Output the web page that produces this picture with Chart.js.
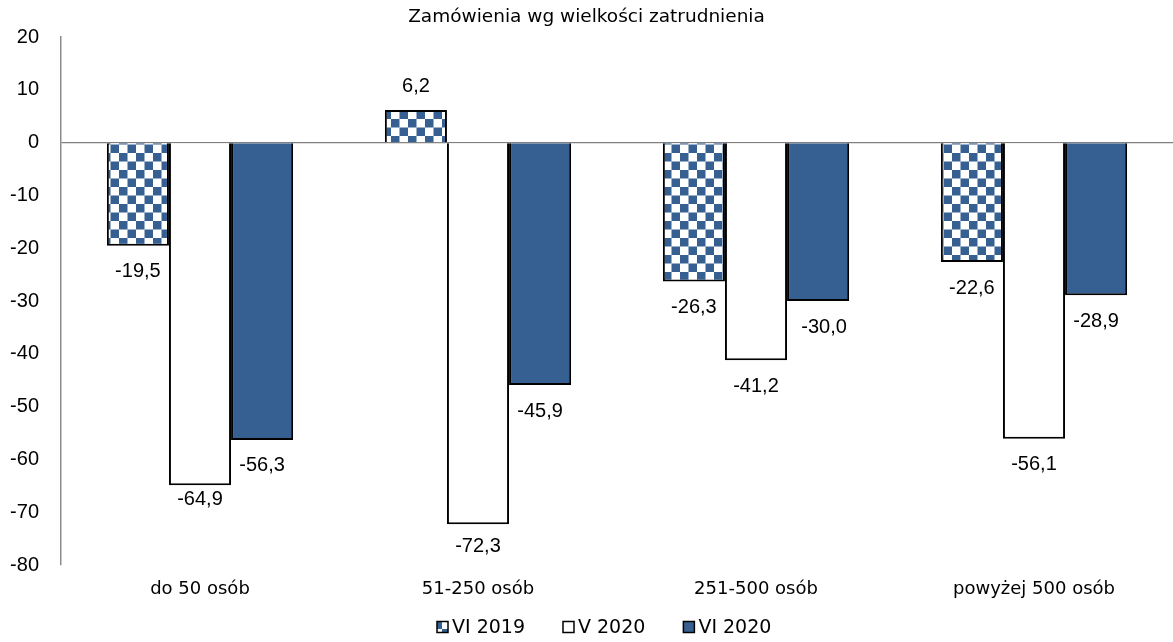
<!DOCTYPE html>
<html lang="pl">
<head>
<meta charset="UTF-8">
<title>Zamówienia wg wielkości zatrudnienia</title>
<script src="https://cdn.jsdelivr.net/npm/chart.js"></script>
<style>
  html, body { margin: 0; padding: 0; background: #fff; }
  #wrap { width: 1173px; height: 642px; }
</style>
</head>
<body>
<div id="wrap"><canvas id="ordersChart"></canvas></div>
<script>
const categories = ['do 50 osób', '51-250 osób', '251-500 osób', 'powyżej 500 osób'];
const seriesNames = ['VI 2019', 'V 2020', 'VI 2020'];
const vi2019 = [-19.5, 6.2, -26.3, -22.6];
const v2020 = [-64.9, -72.3, -41.2, -56.1];
const vi2020 = [-56.3, -45.9, -30.0, -28.9];
const yTicks = [20, 10, 0, -10, -20, -30, -40, -50, -60, -70, -80];

const BLUE = '#376092';
const NUM_FONT = '"Liberation Sans", Arial, sans-serif';
const TXT_FONT = '"DejaVu Sans", Tahoma, sans-serif';

// blue/white checkerboard fill for the first series
function checker() {
  const s = 8.5;
  const c = document.createElement('canvas');
  c.width = c.height = s * 2;
  const g = c.getContext('2d');
  g.fillStyle = '#fff';
  g.fillRect(0, 0, s * 2, s * 2);
  g.fillStyle = BLUE;
  g.fillRect(0, 0, s, s);
  g.fillRect(s, s, s, s);
  return g.createPattern(c, 'repeat');
}

const fmt = v => v.toFixed(1).replace('.', ',');

// a few labels sit a bit closer to their bar (dataset-index : point-index)
const labelNudge = { '1:0': [0, -12], '1:1': [0, -4], '2:2': [6, 0] };

// value labels just outside the end of each bar
const barLabels = {
  id: 'barLabels',
  afterDatasetsDraw(chart) {
    const ctx = chart.ctx;
    ctx.save();
    ctx.font = '20px ' + NUM_FONT;
    ctx.fillStyle = '#000';
    ctx.textAlign = 'center';
    ctx.textBaseline = 'middle';
    chart.data.datasets.forEach((ds, i) => {
      chart.getDatasetMeta(i).data.forEach((bar, j) => {
        const v = ds.data[j];
        const [dx, dy] = labelNudge[i + ':' + j] || [0, 0];
        const y = v < 0 ? bar.y + 26 : bar.y - 24;
        ctx.fillText(fmt(v), bar.x + dx, y + dy);
      });
    });
    ctx.restore();
  }
};

// compact legend row under the axis labels
const bottomLegend = {
  id: 'bottomLegend',
  afterDraw(chart) {
    const ctx = chart.ctx;
    const box = 11, gap = 4, spacing = 38;
    ctx.save();
    ctx.font = '19px ' + TXT_FONT;
    ctx.textBaseline = 'middle';
    let x = 437;
    const y = 627;
    chart.data.datasets.forEach(ds => {
      ctx.fillStyle = ds.backgroundColor;
      ctx.fillRect(x, y - box / 2, box, box);
      ctx.strokeStyle = '#000';
      ctx.lineWidth = 1.5;
      ctx.strokeRect(x, y - box / 2, box, box);
      ctx.fillStyle = '#000';
      ctx.fillText(ds.label, x + box + gap, y + 1);
      x += box + gap + ctx.measureText(ds.label).width + spacing;
    });
    ctx.restore();
  }
};

const ctx = document.getElementById('ordersChart').getContext('2d');
new Chart(ctx, {
  type: 'bar',
  data: {
    labels: categories,
    datasets: [
      { label: seriesNames[0], data: vi2019, backgroundColor: checker(), borderColor: '#000', borderWidth: 2 },
      { label: seriesNames[1], data: v2020, backgroundColor: '#fff', borderColor: '#000', borderWidth: 2 },
      { label: seriesNames[2], data: vi2020, backgroundColor: BLUE, borderColor: '#000', borderWidth: 2 }
    ]
  },
  options: {
    responsive: true,
    maintainAspectRatio: false,
    animation: false,
    layout: { padding: { left: 0, right: 0, top: 0, bottom: 37 } },
    datasets: { bar: { categoryPercentage: 0.67, barPercentage: 1.0 } },
    plugins: {
      title: {
        display: true,
        text: 'Zamówienia wg wielkości zatrudnienia',
        color: '#000',
        font: { family: TXT_FONT, size: 18.5, weight: 'normal' },
        padding: { top: 6, bottom: 9 }
      },
      legend: { display: false },
      tooltip: { enabled: false }
    },
    scales: {
      x: {
        afterFit(scale) { scale.height = 40; },
        grid: { display: false, drawTicks: false },
        border: { display: false },
        ticks: { color: '#000', font: { family: TXT_FONT, size: 18 }, padding: 14 }
      },
      y: {
        min: -80,
        max: 20,
        afterBuildTicks(scale) { scale.ticks = yTicks.map(v => ({ value: v })); },
        afterFit(scale) { scale.width = 61; },
        grid: {
          drawTicks: false,
          color: c => c.tick && c.tick.value === 0 ? '#7f7f7f' : 'rgba(0,0,0,0)',
          lineWidth: 1.2
        },
        border: { display: true, color: '#8c8c8c', width: 1.5 },
        ticks: { color: '#000', font: { family: NUM_FONT, size: 20 }, padding: 22 }
      }
    }
  },
  plugins: [barLabels, bottomLegend]
});
</script>
</body>
</html>
